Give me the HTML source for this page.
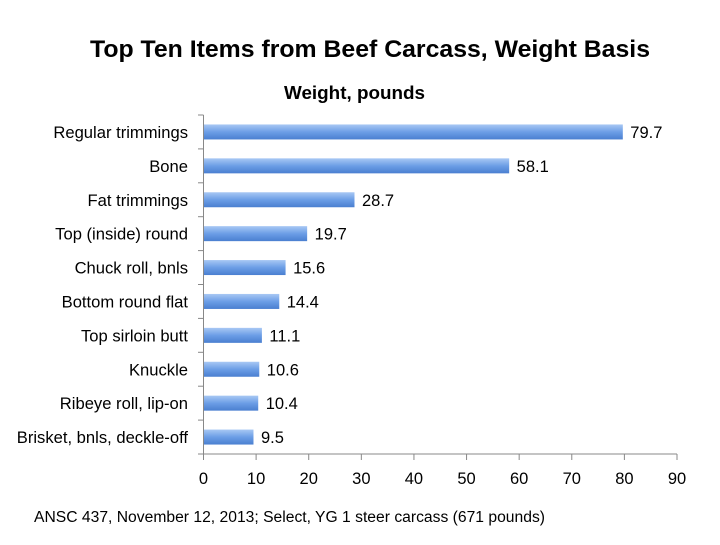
<!DOCTYPE html>
<html><head><meta charset="utf-8"><style>
body{margin:0;background:#fff;}
svg text{font-family:"Liberation Sans",sans-serif;fill:#000;}
</style></head><body>
<svg width="720" height="540" xmlns="http://www.w3.org/2000/svg">
<defs><linearGradient id="g" x1="0" y1="0" x2="0" y2="1">
<stop offset="0" stop-color="#a8c8f4"/><stop offset="0.5" stop-color="#6c9ee6"/><stop offset="1" stop-color="#4a7fd0"/></linearGradient></defs>
<text x="370" y="57" font-size="24.5" font-weight="bold" text-anchor="middle" textLength="560" lengthAdjust="spacingAndGlyphs">Top Ten Items from Beef Carcass, Weight Basis</text>
<text x="354.5" y="99" font-size="18" font-weight="bold" text-anchor="middle" textLength="141" lengthAdjust="spacingAndGlyphs">Weight, pounds</text>
<g id="bars"></g>
<line x1="203.5" y1="115" x2="203.5" y2="454" stroke="#888" stroke-width="1"/>
<line x1="203.5" y1="454" x2="677" y2="454" stroke="#888" stroke-width="1"/>
<text x="34" y="522" font-size="15.5" textLength="511" lengthAdjust="spacingAndGlyphs">ANSC 437, November 12, 2013; Select, YG 1 steer carcass (671 pounds)</text>
</svg>
<script>
var d=[["Regular trimmings",79.7],["Bone",58.1],["Fat trimmings",28.7],["Top (inside) round",19.7],["Chuck roll, bnls",15.6],["Bottom round flat",14.4],["Top sirloin butt",11.1],["Knuckle",10.6],["Ribeye roll, lip-on",10.4],["Brisket, bnls, deckle-off",9.5]];
var s="",u=473.5/90,h=33.9;
for(var i=0;i<10;i++){var c=115+h*(i+0.5),w=d[i][1]*u;
s+='<rect x="203.5" y="'+(c-7.5)+'" width="'+w+'" height="15" fill="url(#g)"/>';
s+='<text x="'+(211+w)+'" y="'+(c+6)+'" font-size="16.5">'+d[i][1].toFixed(1)+'</text>';
s+='<text x="188" y="'+(c+6)+'" font-size="16.6" text-anchor="end">'+d[i][0]+'</text>';}
for(var i=0;i<=10;i++){var y=115+h*i;s+='<line x1="198" y1="'+y+'" x2="203.5" y2="'+y+'" stroke="#888"/>';}
for(var k=0;k<=9;k++){var x=203.5+k*10*u;s+='<line x1="'+x+'" y1="454" x2="'+x+'" y2="460" stroke="#888"/><text x="'+x+'" y="484" font-size="16.5" text-anchor="middle">'+k*10+'</text>';}
document.getElementById("bars").innerHTML=s;
</script>
</body></html>
